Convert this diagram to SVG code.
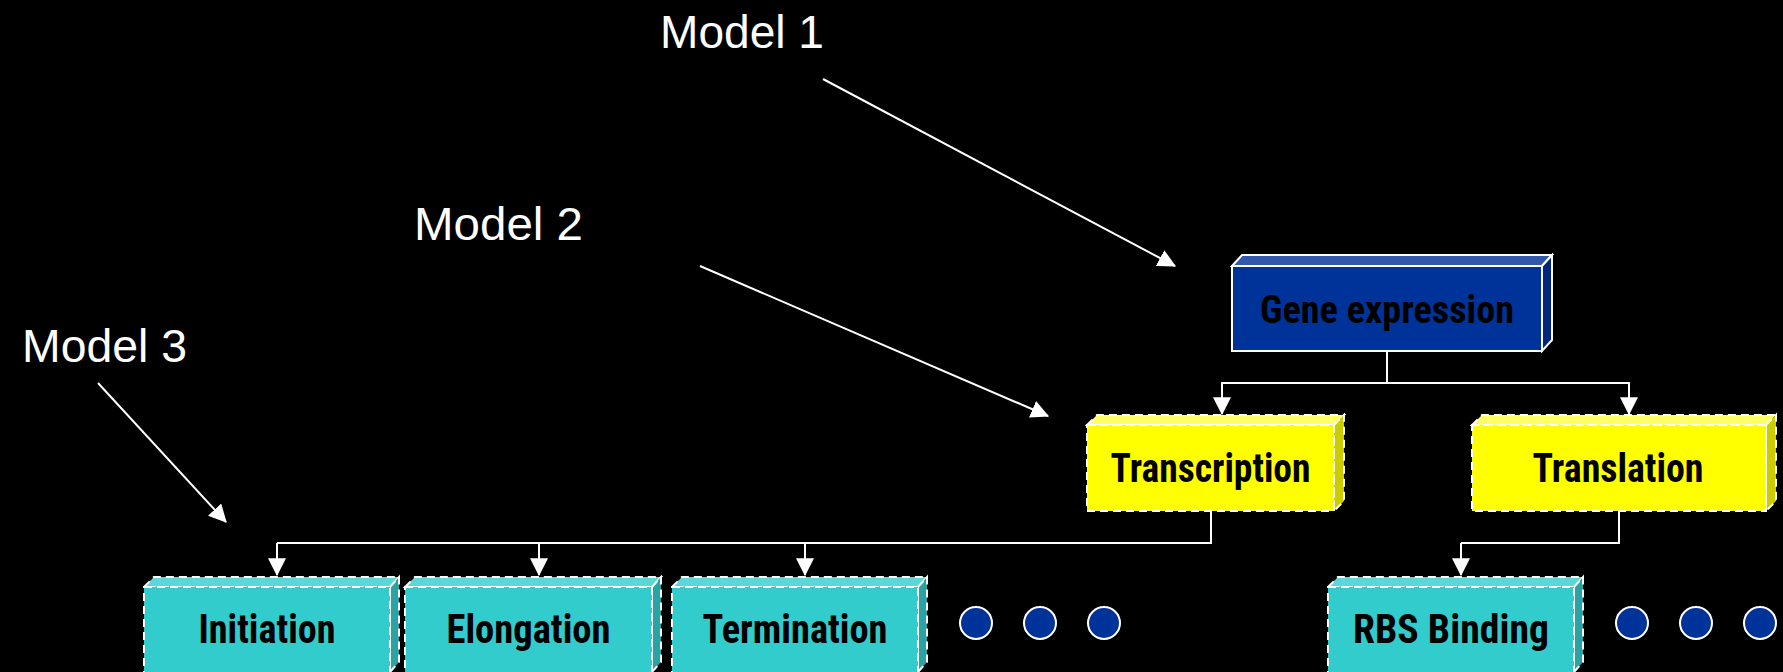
<svg xmlns="http://www.w3.org/2000/svg" width="1783" height="672" viewBox="0 0 1783 672">
  <style>
    .model { font-family: "Liberation Sans", Arial, sans-serif; font-size: 46px; fill: #ffffff; }
    .lbl { font-family: "Liberation Sans Narrow", "Roboto Condensed", "Liberation Sans", Arial, sans-serif; font-weight: bold; fill: #000000; text-anchor: middle; }
    .dash { stroke: #ffffff; stroke-width: 2; stroke-dasharray: 8 5; }
    .solid { stroke: #ffffff; stroke-width: 2; }
    .blue-f { fill: #003399; } .blue-t { fill: #3358aa; } .blue-s { fill: #00267a; }
    .yel-f { fill: #ffff00; } .yel-t { fill: #ffff66; } .yel-s { fill: #cccc00; }
    .cy-f { fill: #33cccc; } .cy-t { fill: #5cd6d6; } .cy-s { fill: #29a3a3; }
    .wire { fill: none; stroke: #ffffff; stroke-width: 2; }
    .dot { fill: #003399; stroke: #ffffff; stroke-width: 2; }
  </style>
  <defs>
    <marker id="tri" markerUnits="userSpaceOnUse" markerWidth="18" markerHeight="18" viewBox="0 0 16 16" refX="15" refY="8" orient="auto">
      <path d="M0,0 L16,8 L0,16 Z" fill="#ffffff"/>
    </marker>
  </defs>
  <rect width="1783" height="672" fill="#000000"/>

  <!-- model labels -->
  <g id="model-labels">
    <text class="model" x="660" y="48" textLength="164" lengthAdjust="spacingAndGlyphs">Model 1</text>
    <text class="model" x="414" y="240" textLength="169" lengthAdjust="spacingAndGlyphs">Model 2</text>
    <text class="model" x="22" y="362" textLength="165" lengthAdjust="spacingAndGlyphs">Model 3</text>
  </g>

  <!-- connectors -->
  <g id="connectors">
    <line class="wire" x1="823" y1="79" x2="1175" y2="266" marker-end="url(#tri)"/>
    <line class="wire" x1="700" y1="266" x2="1048" y2="416" marker-end="url(#tri)"/>
    <line class="wire" x1="98" y1="383" x2="226" y2="522" marker-end="url(#tri)"/>
    <path class="wire" d="M1387,351 V383"/>
    <path class="wire" d="M1222,414 V383 H1629 V414"/>
    <path class="wire" d="M1222,383 V414" marker-end="url(#tri)"/>
    <path class="wire" d="M1629,383 V414" marker-end="url(#tri)"/>
    <path class="wire" d="M1211,511 V543 H277"/>
    <path class="wire" d="M277,543 V575" marker-end="url(#tri)"/>
    <path class="wire" d="M539,543 V575" marker-end="url(#tri)"/>
    <path class="wire" d="M805,543 V575" marker-end="url(#tri)"/>
    <path class="wire" d="M1619,511 V543 H1461"/>
    <path class="wire" d="M1461,543 V575" marker-end="url(#tri)"/>
  </g>

  <!-- Gene expression -->
  <g id="gene-expression">
    <polygon class="blue-t solid" points="1232,266 1242,255 1552,255 1542,266"/>
    <polygon class="blue-s solid" points="1542,266 1552,255 1552,340 1542,351"/>
    <rect class="blue-f solid" x="1232" y="266" width="310" height="85"/>
    <text class="lbl" x="1387" y="323" font-size="39" textLength="254" lengthAdjust="spacingAndGlyphs">Gene expression</text>
  </g>

  <!-- Transcription -->
  <g id="transcription">
    <polygon class="yel-t dash" points="1087,425 1097,415 1344,415 1334,425"/>
    <polygon class="yel-s dash" points="1334,425 1344,415 1344,501 1334,511"/>
    <rect class="yel-f dash" x="1087" y="425" width="247" height="86"/>
    <text class="lbl" x="1210.5" y="482" font-size="40" textLength="200" lengthAdjust="spacingAndGlyphs">Transcription</text>
  </g>

  <!-- Translation -->
  <g id="translation">
    <polygon class="yel-t dash" points="1472,425 1482,415 1776,415 1766,425"/>
    <polygon class="yel-s dash" points="1766,425 1776,415 1776,501 1766,511"/>
    <rect class="yel-f dash" x="1472" y="425" width="294" height="86"/>
    <text class="lbl" x="1618" y="482" font-size="40" textLength="171" lengthAdjust="spacingAndGlyphs">Translation</text>
  </g>

  <!-- Initiation -->
  <g id="initiation">
    <polygon class="cy-t dash" points="144,587 154,577 399,577 390,587"/>
    <polygon class="cy-s dash" points="390,587 399,577 399,662 390,672"/>
    <rect class="cy-f dash" x="144" y="587" width="246" height="86"/>
    <text class="lbl" x="267" y="643" font-size="40" textLength="137" lengthAdjust="spacingAndGlyphs">Initiation</text>
  </g>

  <!-- Elongation -->
  <g id="elongation">
    <polygon class="cy-t dash" points="405,587 415,577 661,577 652,587"/>
    <polygon class="cy-s dash" points="652,587 661,577 661,662 652,672"/>
    <rect class="cy-f dash" x="405" y="587" width="247" height="86"/>
    <text class="lbl" x="528.5" y="643" font-size="40" textLength="164" lengthAdjust="spacingAndGlyphs">Elongation</text>
  </g>

  <!-- Termination -->
  <g id="termination">
    <polygon class="cy-t dash" points="672,587 682,577 927,577 918,587"/>
    <polygon class="cy-s dash" points="918,587 927,577 927,662 918,672"/>
    <rect class="cy-f dash" x="672" y="587" width="246" height="86"/>
    <text class="lbl" x="795" y="643" font-size="40" textLength="185" lengthAdjust="spacingAndGlyphs">Termination</text>
  </g>

  <!-- RBS Binding -->
  <g id="rbs-binding">
    <polygon class="cy-t dash" points="1328,587 1338,577 1583,577 1574,587"/>
    <polygon class="cy-s dash" points="1574,587 1583,577 1583,662 1574,672"/>
    <rect class="cy-f dash" x="1328" y="587" width="246" height="86"/>
    <text class="lbl" x="1451" y="643" font-size="40" textLength="196" lengthAdjust="spacingAndGlyphs">RBS Binding</text>
  </g>

  <!-- continuation dots -->
  <g id="transcription-more">
    <circle class="dot" cx="976" cy="623" r="16"/>
    <circle class="dot" cx="1040" cy="623" r="16"/>
    <circle class="dot" cx="1104" cy="623" r="16"/>
  </g>
  <g id="translation-more">
    <circle class="dot" cx="1632" cy="623" r="16"/>
    <circle class="dot" cx="1696" cy="623" r="16"/>
    <circle class="dot" cx="1760" cy="623" r="16"/>
  </g>
</svg>
